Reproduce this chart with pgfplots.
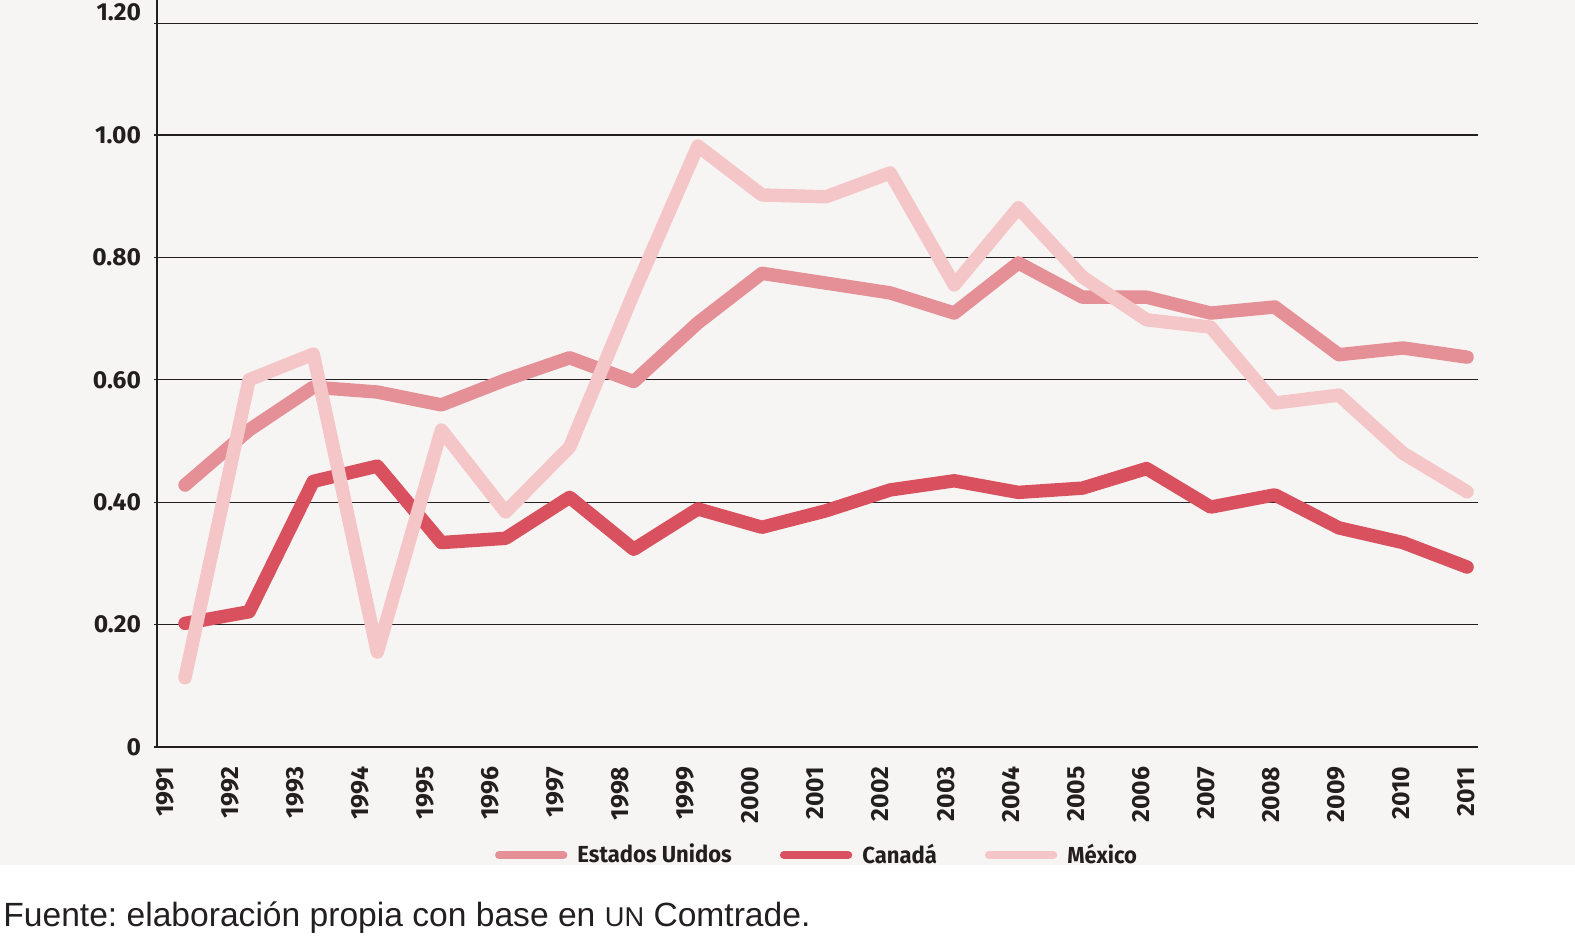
\documentclass[border=0pt]{standalone}
\usepackage{pgfplots}
\pgfplotsset{compat=1.18}
\usepackage{fontspec}
\setmainfont{Fira Sans}
\newfontfamily\srcfont{Liberation Sans}
\newfontfamily\legfont[FakeStretch=0.95]{Fira Sans}
\definecolor{bg}{RGB}{247,245,243}
\definecolor{cUS}{RGB}{229,143,151}
\definecolor{cCA}{RGB}{217,80,94}
\definecolor{cMX}{RGB}{245,198,200}
\definecolor{ink}{RGB}{35,31,32}
\pgfplotstableread{
i us ca mx
0 0.428 0.202 0.113
1 0.518 0.221 0.600
2 0.588 0.434 0.642
3 0.580 0.459 0.155
4 0.559 0.334 0.518
5 0.600 0.341 0.384
6 0.636 0.408 0.490
7 0.597 0.323 0.742
8 0.693 0.389 0.982
9 0.774 0.359 0.902
10 0.758 0.386 0.899
11 0.742 0.420 0.938
12 0.709 0.435 0.755
13 0.791 0.416 0.881
14 0.735 0.423 0.768
15 0.735 0.455 0.698
16 0.709 0.392 0.686
17 0.719 0.412 0.562
18 0.641 0.358 0.575
19 0.652 0.334 0.480
20 0.637 0.294 0.417
}\datatable
\begin{document}
\frenchspacing
\begin{tikzpicture}[x=1pt,y=1pt]
\useasboundingbox (0,0) rectangle (787.5,468);
\fill[bg] (0,35.5) rectangle (787.5,468);
\begin{pgfinterruptboundingbox}
\begin{axis}[
  at={(78.5pt,94.5pt)}, anchor=south west,
  scale only axis, width=660.5pt, height=373.5pt,
  xmin=-0.437, xmax=20.17, ymin=0, ymax=1.2206,
  axis lines=left,
  axis line style={-, line width=1.1pt, ink},
  xtick={-0.312,0.703,1.718,2.732,3.747,4.762,5.777,6.792,7.806,8.821,9.836,10.851,11.866,12.880,13.895,14.910,15.925,16.940,17.954,18.969,19.984},
  xticklabels={1991,1992,1993,1994,1995,1996,1997,1998,1999,2000,2001,2002,2003,2004,2005,2006,2007,2008,2009,2010,2011},
  xtick style={draw=none},
  ytick={0,0.2,0.4,0.6,0.8,1.0},
  yticklabels={0,0.20,0.40,0.60,0.80,1.00},
  extra y ticks={1.182},
  extra y tick labels={1.20},
  extra y tick style={grid=major, yticklabel style={yshift=5.8pt}},
  ytick style={ink, line width=0.6pt},
  tick align=outside,
  major tick length=1.5pt,
  ymajorgrids,
  grid style={ink, line width=0.6pt},
  /pgf/number format/assume math mode=true,
  yticklabel style={font=\bfseries\fontsize{12.3}{14}\selectfont, text=ink, anchor=east, xshift=-3pt},
  xticklabel style={font=\bfseries\fontsize{12.4}{14}\selectfont, text=ink, yshift=-4.8pt, rotate=90, anchor=east},
  legend columns=3,
  legend style={at={(axis description cs:0.5004,-0.1446)}, anchor=center, draw=none, fill=none,
    font=\legfont\bfseries\fontsize{11.6}{14}\selectfont, text=ink,
    /tikz/every odd column/.append style={column sep=3pt},
    /tikz/every even column/.append style={column sep=22pt},
    inner sep=0pt},
  legend image code/.code={\draw[#1, line width=4.2pt, line cap=round] (0pt,0pt) -- (32pt,0pt);},
  every axis plot/.append style={line width=6.7pt, line join=round, line cap=round, mark=none},
  clip=false,
]
\addplot[cUS] table[x=i, y=us] {\datatable};
\addlegendentry{Estados Unidos}
\addplot[cCA] table[x=i, y=ca] {\datatable};
\addlegendentry{Canadá}
\addplot[cMX] table[x=i, y=mx] {\datatable};
\addlegendentry{México}
\end{axis}
\end{pgfinterruptboundingbox}
\node[anchor=base west, inner sep=0pt, text=ink] at (1.5,4.5) {\srcfont\fontsize{16.8}{18}\selectfont Fuente: elaboración propia con base en {\fontsize{13.6}{16}\selectfont UN} Comtrade.};
\end{tikzpicture}
\end{document}
